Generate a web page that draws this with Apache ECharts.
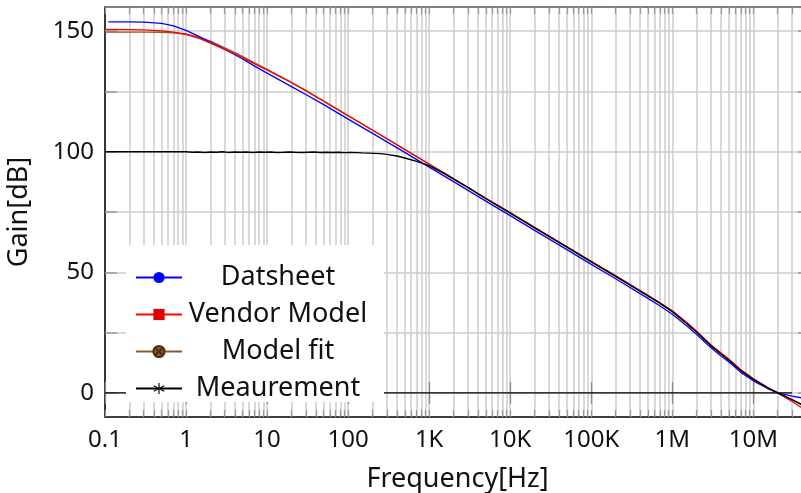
<!DOCTYPE html>
<html>
<head>
<meta charset="utf-8">
<script src="https://cdn.jsdelivr.net/npm/echarts@6/dist/echarts.min.js"></script>
<style>
  html, body { margin: 0; padding: 0; background: #fff; }
  #chart { width: 801px; height: 493px; }
</style>
</head>
<body>
<div id="chart"></div>
<script>
// Open-loop gain vs frequency: datasheet curve, vendor model, fitted model and measurement

// Frequency grid (Hz) for the model curves
const freqModel = [0.1,0.2,0.3,0.5,0.7, 1,1.5,2,3,4,5,7, 10,20,30,50, 100,200,500,
  1e3,2e3,5e3, 1e4,2e4,5e4, 1e5,2e5,5e5,7e5, 1e6,1.5e6,2e6,3e6,4e6,5e6,7e6,
  1e7,1.5e7,2e7,3e7,4e7,5e7];
// Datasheet curve starts slightly above 0.1 Hz
const freqDatasheet = [0.11,0.2,0.3,0.5,0.7, 1,1.5,2,3,4,5,7, 10,20,30,50, 100,200,500,
  1e3,2e3,5e3, 1e4,2e4,5e4, 1e5,2e5,5e5,7e5, 1e6,1.5e6,2e6,3e6,4e6,5e6,7e6,
  1e7,1.5e7,2e7,3e7,4e7,5e7];

// Gain in dB
const gainDatasheet = [153.8,153.8,153.7,153.2,152.2, 150.3,147.5,145.4,142.4,140.2,138.5,135.5,
  132.6,127.0,123.7,119.5, 113.5,107.6,99.7, 93.6,87.6,79.5, 73.5,67.4,59.4,
  53.3,47.3,39.2,36.1, 32.6,27.8,24.2,18.7,15.3,12.8,8.5, 5.0,1.8,0,-1.3,-2.1,-2.6];
const gainVendor = [150.7,150.6,150.5,150.1,149.6, 148.6,146.8,145.0,142.4,140.6,139.0,136.4,
  133.9,128.6,125.3,120.9, 114.9,108.9,100.9, 94.8,88.8,80.7, 74.7,68.6,60.6,
  54.5,48.5,40.4,37.4, 34.0,29.3,25.6,19.9,16.5,13.9,9.6, 5.8,2.2,0,-3.6,-6.3,-8.3];
const gainModelFit = [149.6,149.6,149.6,149.5,149.3, 148.8,147.3,145.8,143.0,141.1,139.4,136.8,
  134.1,128.7,125.4,121.0, 115.0,109.0,101.0, 94.9,88.8,80.7, 74.7,68.6,60.6,
  54.5,48.5,40.4,37.3, 33.9,29.0,25.3,19.7,16.3,13.7,9.4, 5.8,2.2,0,-2.9,-4.9,-6.4];

// Measurement: saturates near 100 dB at low frequency (noisy plateau)
const freqMeas = [0.1,1, 1.2,1.4,1.7,2,2.4,2.8,3.3,4,4.7,5.6, 6.6,8,9.4,11,13,16,19,22,27,32,
  38,45,54,64,76,90,107,127,150,180, 210,250,300,400,500,700,
  1e3,1.5e3,2e3,3e3,5e3, 1e4,2e4,5e4, 1e5,2e5,5e5,7e5,
  1e6,1.5e6,2e6,3e6,4e6,5e6,7e6, 1e7,1.5e7,2e7,3e7,4e7,5e7];
const gainMeas = [100.0,100.0, 99.8,99.9,99.7,99.9,99.8,100.0,99.7,99.9,99.8,99.9,
  99.7,99.9,99.8,99.9,99.7,99.8,99.9,99.8,99.7,99.8,
  99.9,99.7,99.8,99.7,99.8,99.6,99.7,99.6,99.5,99.4,
  99.3,99.2,98.9,98.2,97.4,96.0,
  94.2,91.1,88.6,85.2,80.5, 74.5,68.4,60.4, 54.3,48.3,40.2,37.2,
  33.7,28.8,25.1,19.5,16.1,13.5,9.2, 5.6,2.1,0,-2.8,-4.9,-6.4];

// 0 dB reference
const freqZero = [0.1, 3e7];
const gainZero = [0, 0];

// Axis ticks
const xDecades = [0.1,1,10,100,1e3,1e4,1e5,1e6,1e7];
const xTickLabels = ['0.1','1','10','100','1K','10K','100K','1M','10M'];
const yGridValues = [0,25,50,75,100,125,150];
const yLabelValues = [0,50,100,150];

const X_MIN = 0.1, X_MAX = 5e7, Y_MIN = -10, Y_MAX = 160;

// minor log ticks 1..9 within each decade
const xMinor = [];
for (const d of xDecades) {
  for (let k = 1; k <= 9; k++) {
    const v = +(d * k).toPrecision(6);
    if (v <= X_MAX) xMinor.push(v);
  }
}

const FONT = 'Noto Sans';
const pair = (xs, ys) => xs.map((f, i) => [f, ys[i]]);

const labelFor = v => {
  let best = 0, bd = Infinity;
  xDecades.forEach((d, i) => {
    const dd = Math.abs(Math.log10(d) - Math.log10(v));
    if (dd < bd) { bd = dd; best = i; }
  });
  return xTickLabels[best];
};

function xAxisBase(extra) {
  return Object.assign({
    type: 'log', logBase: 10, min: X_MIN, max: X_MAX, gridIndex: 0,
    axisLabel: { show: false }, splitLine: { show: false }, minorTick: { show: false }
  }, extra);
}

// legend markers
const asterisk = 'path://M4.5 0L5.5 0L5.5 10L4.5 10Z' +
  'M0.42 2.93L9.08 7.93L9.58 7.07L0.92 2.07Z' +
  'M0.92 7.93L9.58 2.93L9.08 2.07L0.42 7.07Z';
const crossedCircle = 'path://M0 5A5 5 0 1 0 10 5A5 5 0 1 0 0 5Z' +
  'M1.6 1.6L8.4 8.4M8.4 1.6L1.6 8.4';

const chart = echarts.init(document.getElementById('chart'), null, { renderer: 'canvas' });

chart.setOption({
  animation: false,
  backgroundColor: '#ffffff',
  textStyle: { fontFamily: FONT },
  grid: { left: 105, right: -9, top: 7, bottom: 76, containLabel: false, outerBoundsMode: 'none' },
  xAxis: [
    xAxisBase({
      position: 'bottom',
      name: 'Frequency[Hz]', nameLocation: 'middle', nameGap: 49,
      nameTextStyle: { fontSize: 27, color: '#111', fontFamily: FONT },
      axisLine: { show: true, onZero: false, lineStyle: { color: '#000', width: 1.5 } },
      axisTick: { show: true, inside: true, length: 7, customValues: xMinor,
                  lineStyle: { color: '#9a9a9a', width: 1.3 } },
      axisLabel: { show: true, customValues: xDecades, formatter: labelFor, margin: 11,
                   fontSize: 24, color: '#111', fontFamily: FONT },
      splitLine: { show: true, lineStyle: { color: '#cdcdcd', width: 1.5 } }
    }),
    xAxisBase({
      position: 'bottom',
      axisLine: { show: false },
      axisTick: { show: true, inside: true, length: 11, customValues: xDecades,
                  lineStyle: { color: '#8a8a8a', width: 1.3 } }
    }),
    xAxisBase({
      position: 'top',
      axisLine: { show: true, onZero: false, lineStyle: { color: '#555', width: 1.5 } },
      axisTick: { show: true, inside: true, length: 7, customValues: xMinor,
                  lineStyle: { color: '#9a9a9a', width: 1.3 } }
    }),
    xAxisBase({
      position: 'top',
      axisLine: { show: false },
      axisTick: { show: true, inside: true, length: 11, customValues: xDecades,
                  lineStyle: { color: '#8a8a8a', width: 1.3 } }
    })
  ],
  yAxis: [
    {
      type: 'value', min: Y_MIN, max: Y_MAX, position: 'left',
      name: 'Gain[dB]', nameLocation: 'middle', nameGap: 72,
      nameTextStyle: { fontSize: 27, color: '#111', fontFamily: FONT },
      axisLine: { show: true, onZero: false, lineStyle: { color: '#000', width: 1.5 } },
      axisTick: { show: true, inside: true, length: 12, customValues: yGridValues,
                  lineStyle: { color: '#9a9a9a', width: 1.5 } },
      axisLabel: { show: true, customValues: yLabelValues, margin: 11, padding: [6, 0, 0, 0],
                   fontSize: 24, color: '#111', fontFamily: FONT },
      splitLine: { show: true, lineStyle: { color: '#cdcdcd', width: 1.5 } }
    },
    {
      type: 'value', min: Y_MIN, max: Y_MAX, position: 'right',
      axisLine: { show: false },
      axisTick: { show: true, inside: true, length: 12, customValues: yGridValues,
                  lineStyle: { color: '#9a9a9a', width: 1.5 } },
      axisLabel: { show: false },
      splitLine: { show: false }
    }
  ],
  legend: {
    orient: 'vertical', left: 126, top: 245,
    backgroundColor: '#ffffff',
    padding: [19, 15, 0, 9],
    itemWidth: 46, itemHeight: 14, itemGap: 10, itemTextGap: 5,
    data: ['Datsheet', 'Vendor Model', 'Model fit', 'Meaurement'],
    formatter: '{t|{name}}',
    textStyle: {
      fontFamily: FONT, fontSize: 27, color: '#111',
      rich: { t: { width: 182, align: 'center', fontSize: 27, lineHeight: 26, fontFamily: FONT, color: '#111' } }
    }
  },
  series: [
    {
      name: 'zero', type: 'line', data: pair(freqZero, gainZero),
      showSymbol: false, symbol: 'none', silent: true,
      lineStyle: { color: '#000', width: 1.3 }, z: 2
    },
    {
      name: 'Model fit', type: 'line', data: pair(freqModel, gainModelFit),
      showSymbol: false, symbol: crossedCircle,
      color: '#8b5a2b', itemStyle: { color: '#8b5a2b', borderColor: '#4a2e12', borderWidth: 1 },
      lineStyle: { color: '#8b5a2b', width: 1.4 }, z: 3
    },
    {
      name: 'Datsheet', type: 'line', data: pair(freqDatasheet, gainDatasheet),
      showSymbol: false, symbol: 'circle',
      color: '#0000ff', lineStyle: { color: '#0000ff', width: 1.3 }, z: 4
    },
    {
      name: 'Vendor Model', type: 'line', data: pair(freqModel, gainVendor),
      showSymbol: false, symbol: 'rect',
      color: '#e00000', lineStyle: { color: '#ff0000', width: 1.3 }, z: 5
    },
    {
      name: 'Meaurement', type: 'line', data: pair(freqMeas, gainMeas),
      showSymbol: false, symbol: asterisk,
      color: '#111', lineStyle: { color: '#000', width: 1.4 }, z: 6
    }
  ]
});
</script>
</body>
</html>
